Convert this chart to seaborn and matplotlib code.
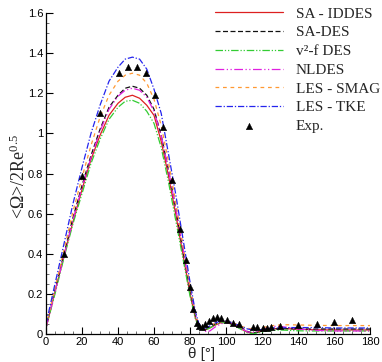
import numpy as np
import pandas as pd
import matplotlib
matplotlib.use("Agg")
import matplotlib.pyplot as plt
import seaborn as sns

# ---------------- data ----------------
theta = [0, 5, 10, 15, 20, 25, 30, 35, 40, 44, 48, 52, 56, 60, 64, 68, 72, 76, 80, 83, 85, 87, 89, 91,
         94, 97, 100, 104, 108, 112, 115, 118, 122, 126, 130, 135, 140, 150, 160, 170, 180]

sa_iddes = [0.03, 0.21, 0.39, 0.56, 0.72, 0.87, 0.99, 1.09, 1.15, 1.18, 1.19, 1.175, 1.14, 1.09, 0.96, 0.79,
            0.60, 0.40, 0.20, 0.08, 0.035, 0.022, 0.022, 0.03, 0.045, 0.056, 0.058, 0.047, 0.027, 0.008,
            0.004, 0.01, 0.02, 0.026, 0.028, 0.026, 0.024, 0.021, 0.02, 0.02, 0.02]
sa_des = [0.03, 0.22, 0.40, 0.58, 0.74, 0.89, 1.02, 1.13, 1.19, 1.225, 1.235, 1.225, 1.19, 1.12, 0.99, 0.82,
          0.63, 0.42, 0.22, 0.09, 0.04, 0.025, 0.025, 0.035, 0.05, 0.062, 0.064, 0.055, 0.035, 0.012,
          0.006, 0.01, 0.018, 0.024, 0.026, 0.026, 0.025, 0.025, 0.025, 0.025, 0.025]
v2f_des = [0.03, 0.20, 0.38, 0.55, 0.70, 0.85, 0.97, 1.07, 1.13, 1.16, 1.165, 1.15, 1.11, 1.05, 0.93, 0.76,
           0.57, 0.38, 0.19, 0.075, 0.035, 0.022, 0.022, 0.03, 0.045, 0.055, 0.057, 0.045, 0.025, 0.006,
           0.002, 0.006, 0.013, 0.018, 0.02, 0.018, 0.016, 0.015, 0.015, 0.015, 0.015]
nldes = [0.03, 0.21, 0.39, 0.57, 0.73, 0.88, 1.01, 1.12, 1.185, 1.215, 1.225, 1.215, 1.18, 1.11, 0.99, 0.82,
         0.63, 0.43, 0.23, 0.10, 0.045, 0.02, 0.012, 0.015, 0.035, 0.05, 0.058, 0.05, 0.03, 0.01,
         0.008, 0.015, 0.03, 0.038, 0.038, 0.032, 0.025, 0.018, 0.015, 0.015, 0.015]
les_smag = [0.04, 0.23, 0.42, 0.61, 0.78, 0.94, 1.08, 1.19, 1.26, 1.29, 1.30, 1.29, 1.25, 1.17, 1.04, 0.86,
            0.66, 0.45, 0.24, 0.10, 0.045, 0.03, 0.03, 0.04, 0.055, 0.065, 0.065, 0.055, 0.04, 0.028,
            0.025, 0.028, 0.035, 0.042, 0.045, 0.046, 0.045, 0.043, 0.042, 0.042, 0.042]
les_tke = [0.05, 0.25, 0.45, 0.65, 0.83, 1.00, 1.14, 1.26, 1.33, 1.37, 1.38, 1.37, 1.32, 1.22, 1.10, 0.90,
           0.70, 0.48, 0.26, 0.11, 0.05, 0.03, 0.03, 0.04, 0.055, 0.065, 0.065, 0.055, 0.04, 0.025,
           0.02, 0.02, 0.025, 0.03, 0.03, 0.032, 0.032, 0.032, 0.03, 0.03, 0.03]

exp_theta = [10, 20, 30, 40.5, 45.4, 50.4, 55.4, 60.6, 65.2, 70, 74.7, 78, 80, 81.8, 83.8, 85.2, 86.8,
             88.6, 90.5, 92.8, 95, 97.2, 100.4, 104, 107.4, 114.8, 117, 120.7, 122.6, 124.8, 130,
             140.2, 150.4, 160.2, 169.8]
exp_val = [0.40, 0.79, 1.10, 1.30, 1.33, 1.33, 1.30, 1.19, 1.03, 0.77, 0.525, 0.37, 0.236, 0.125, 0.055,
           0.04, 0.035, 0.05, 0.066, 0.082, 0.083, 0.082, 0.068, 0.053, 0.052, 0.036, 0.035, 0.03,
           0.032, 0.033, 0.038, 0.045, 0.05, 0.058, 0.069]

series_names = ["SA - IDDES", "SA-DES", "v\u00b2-f DES", "NLDES", "LES - SMAG", "LES - TKE"]
series_vals = [sa_iddes, sa_des, v2f_des, nldes, les_smag, les_tke]
series_colors = ["#dd2020", "#111111", "#33cc33", "#e020e0", "#ff9933", "#2424ee"]
series_styles = ["-", (0, (4, 2)), (0, (6, 1.5, 1, 1.5, 1, 1.5)), (0, (7, 2, 1, 2, 1, 2)),
                 (0, (3, 3)), (0, (5, 1.5, 1, 1.5))]

xticks = [0, 20, 40, 60, 80, 100, 120, 140, 160, 180]
xticklabels = ["0", "20", "40", "60", "80", "100", "120", "140", "160", "180"]
yticks = [0, 0.2, 0.4, 0.6, 0.8, 1.0, 1.2, 1.4, 1.6]
yticklabels = ["0", "0.2", "0.4", "0.6", "0.8", "1", "1.2", "1.4", "1.6"]

# ---------------- plot ----------------
sns.set_style("white")
plt.rcParams["font.family"] = ["Liberation Sans", "DejaVu Sans"]
plt.rcParams["mathtext.fontset"] = "custom"
plt.rcParams["mathtext.rm"] = "Liberation Serif"
plt.rcParams["mathtext.it"] = "Liberation Serif:italic"

fig = plt.figure(figsize=(3.82, 3.62), dpi=100)
ax = fig.add_axes([46 / 382, 28 / 362, 324 / 382, 321 / 362])

for name, vals, col, ls in zip(series_names, series_vals, series_colors, series_styles):
    df = pd.DataFrame({"theta": theta, "val": vals})
    sns.lineplot(data=df, x="theta", y="val", ax=ax, color=col, linestyle=ls, linewidth=0.9,
                 label=name, estimator=None, sort=True)

exp_df = pd.DataFrame({"theta": exp_theta, "val": exp_val})
sns.scatterplot(data=exp_df, x="theta", y="val", ax=ax, marker="^", color="black", s=22,
                edgecolor="black", linewidth=0.3, label="Exp.", zorder=5)

ax.set_xlim(0, 180)
ax.set_ylim(0, 1.6)
ax.set_xticks(xticks)
ax.set_xticklabels(xticklabels)
ax.set_yticks(yticks)
ax.set_yticklabels(yticklabels)
ax.xaxis.set_minor_locator(matplotlib.ticker.MultipleLocator(5))
ax.yaxis.set_minor_locator(matplotlib.ticker.MultipleLocator(0.05))
ax.tick_params(which="major", direction="in", length=5, width=0.8, labelsize=8, pad=2,
               bottom=True, left=True, colors="black")
ax.tick_params(which="minor", direction="in", length=2.5, width=0.6, bottom=True, left=True,
               colors="#555555")
for s in ["top", "right"]:
    ax.spines[s].set_visible(False)
for s in ["left", "bottom"]:
    ax.spines[s].set_color("black")
    ax.spines[s].set_linewidth(0.9)

ax.set_xlabel("\u03b8 [\u00b0]", fontsize=11)
ax.xaxis.set_label_coords(0.48, -0.042)
ax.set_ylabel("<\u03a9>/2Re$^{0.5}$", fontsize=13, family=["Liberation Serif", "DejaVu Serif"])
ax.yaxis.set_label_coords(-0.052, 0.492)

leg = ax.legend(loc="upper left", bbox_to_anchor=(215 / 382, 355 / 362),
                bbox_transform=fig.transFigure, frameon=False, borderpad=0, borderaxespad=0,
                handlelength=4.45, handletextpad=0.85, labelspacing=0.33, numpoints=1,
                scatterpoints=1, prop={"family": "Liberation Serif", "size": 11})

fig.savefig("out.png", dpi=100)
